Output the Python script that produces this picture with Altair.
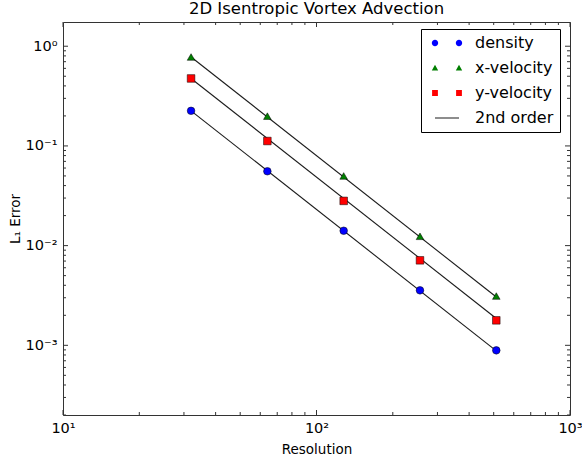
import altair as alt
import pandas as pd

# ---- data ----
resolution = [32, 64, 128, 256, 512]
density = [0.225, 0.0557, 0.0141, 0.00356, 0.00089]
x_velocity = [0.78, 0.199, 0.050, 0.0124, 0.00312]
y_velocity = [0.475, 0.112, 0.0281, 0.00712, 0.00178]

# 2nd order reference lines (end points)
line_res = [32, 512]
line_density = [0.225, 0.00088]
line_xvel = [0.78, 0.00305]
line_yvel = [0.475, 0.00186]

series_names = ["density", "x-velocity", "y-velocity"]
legend_names = ["density", "x-velocity", "y-velocity", "2nd order"]
colors = ["#0000ff", "#007f00", "#ff0000"]

x_major = [10, 100, 1000]
x_minor = [20, 30, 40, 50, 60, 70, 80, 90, 200, 300, 400, 500, 600, 700, 800, 900]
y_major = [0.001, 0.01, 0.1, 1.0]
y_minor = [0.0002, 0.0003, 0.0004, 0.0005, 0.0006, 0.0007, 0.0008, 0.0009,
           0.002, 0.003, 0.004, 0.005, 0.006, 0.007, 0.008, 0.009,
           0.02, 0.03, 0.04, 0.05, 0.06, 0.07, 0.08, 0.09,
           0.2, 0.3, 0.4, 0.5, 0.6, 0.7, 0.8, 0.9]

W, H = 507, 393

pts = pd.DataFrame({
    "res": resolution * 3,
    "err": density + x_velocity + y_velocity,
    "series": [s for s in series_names for _ in resolution],
})
lines = pd.DataFrame({
    "res": line_res * 3,
    "err": line_density + line_xvel + line_yvel,
    "group": [s for s in series_names for _ in line_res],
})

xs = alt.Scale(type="log", domain=[10, 1000], nice=False)
ys = alt.Scale(type="log", domain=[2e-4, 1.75], nice=False)

x_axis = alt.Axis(values=x_major, ticks=False, domain=False, grid=False,
                  labelExpr="datum.value >= 999 ? '10³' : datum.value >= 99 ? '10²' : '10¹'",
                  labelFontSize=14.5, labelPadding=6, labelFlush=False, labelColor="black",
                  title="Resolution", titleFontSize=13.5, titleFontWeight="normal",
                  titleColor="black", titleY=27, titleBaseline="top")
y_axis = alt.Axis(values=y_major, ticks=False, domain=False, grid=False,
                  labelExpr="datum.value >= 0.99 ? '10⁰' : datum.value >= 0.099 ? '10⁻¹' : datum.value >= 0.0099 ? '10⁻²' : '10⁻³'",
                  labelFontSize=14.5, labelPadding=6, labelFlush=False, labelColor="black",
                  title="L₁ Error", titleFontSize=13.5, titleFontWeight="normal",
                  titleColor="black", titleX=-48, titleY=H / 2, titleBaseline="middle",
                  titleAngle=-90)


def X(field):
    return alt.X(field, scale=xs, axis=x_axis)


def Y(field):
    return alt.Y(field, scale=ys, axis=y_axis)


def tick_layer(vals, axis, side, length):
    df = pd.DataFrame({"v": vals})
    base = alt.Chart(df).mark_rule(color="#333", strokeWidth=1)
    if axis == "x":
        enc = dict(x=X("v:Q"))
        if side == "bottom":
            enc.update(y=alt.value(H), y2=alt.value(H - length))
        else:
            enc.update(y=alt.value(0), y2=alt.value(length))
    else:
        enc = dict(y=Y("v:Q"))
        if side == "left":
            enc.update(x=alt.value(0), x2=alt.value(length))
        else:
            enc.update(x=alt.value(W), x2=alt.value(W - length))
    return base.encode(**enc)


ticks = []
for side in ["bottom", "top"]:
    ticks.append(tick_layer(x_major, "x", side, 5))
    ticks.append(tick_layer(x_minor, "x", side, 3))
for side in ["left", "right"]:
    ticks.append(tick_layer(y_major, "y", side, 5))
    ticks.append(tick_layer(y_minor, "y", side, 3))

line_layer = alt.Chart(lines).mark_line(color="#1a1a1a", strokeWidth=1.1).encode(
    x=X("res:Q"),
    y=Y("err:Q"),
    detail="group:N",
)

point_layer = alt.Chart(pts).mark_point(filled=True, size=58, opacity=1,
                                        stroke="black", strokeWidth=0.5).encode(
    x=X("res:Q"),
    y=Y("err:Q"),
    color=alt.Color("series:N", scale=alt.Scale(domain=series_names, range=colors), legend=None),
    shape=alt.Shape("series:N", scale=alt.Scale(domain=series_names,
                                                range=["circle", "triangle-up", "square"]),
                    legend=None),
)


# legend symbols: two markers per entry (unit = sqrt(size)/2 = 2 px)
def circle_path(cx, r):
    k = 0.5523 * r
    return (f"M{cx + r},0 C{cx + r},{k} {cx + k},{r} {cx},{r} "
            f"C{cx - k},{r} {cx - r},{k} {cx - r},0 "
            f"C{cx - r},{-k} {cx - k},{-r} {cx},{-r} "
            f"C{cx + k},{-r} {cx + r},{-k} {cx + r},0 Z")


def tri_path(cx, s):
    return f"M{cx - s},{s * 0.8} L{cx + s},{s * 0.8} L{cx},{-s} Z"


def sq_path(cx, s):
    return f"M{cx - s},{-s} L{cx + s},{-s} L{cx + s},{s} L{cx - s},{s} Z"


legend_shapes = [
    circle_path(-6, 1.6) + " " + circle_path(6, 1.6),
    tri_path(-6, 1.6) + " " + tri_path(6, 1.6),
    sq_path(-6, 1.45) + " " + sq_path(6, 1.45),
    "M-6,-0.45 L6,-0.45 L6,0.45 L-6,0.45 Z",
]

leg = alt.Legend(title=None, orient="none", legendX=358, legendY=7,
                 padding=6, rowPadding=9, symbolSize=16, symbolOffset=12,
                 labelOffset=20, labelFontSize=16, labelColor="black",
                 symbolStrokeColor="#666", symbolStrokeWidth=0.2, symbolOpacity=1,
                 strokeColor="black", fillColor="white", cornerRadius=0,
                 labelLimit=200)

legend_layer = alt.Chart(pd.DataFrame({"series": legend_names})).mark_point(
    filled=True, clip=True).encode(
    x=alt.value(-200),
    y=alt.value(-200),
    color=alt.Color("series:N", scale=alt.Scale(domain=legend_names,
                                                range=colors + ["#808080"]), legend=leg),
    shape=alt.Shape("series:N", scale=alt.Scale(domain=legend_names, range=legend_shapes),
                    legend=leg),
)

chart = alt.layer(*ticks, line_layer, point_layer, legend_layer).resolve_scale(
    color="independent", shape="independent"
).properties(
    width=W, height=H,
    title=alt.TitleParams("2D Isentropic Vortex Advection", fontSize=16.5,
                          fontWeight="normal", anchor="middle", offset=4, color="black"),
    autosize=alt.AutoSizeParams(type="none"),
    padding={"left": 63, "top": 22, "right": 12, "bottom": 41},
).configure(font="DejaVu Sans", background="white").configure_view(
    stroke="#333", strokeWidth=1
)

chart.save("out.html", embed_options={"renderer": "svg", "actions": False})
